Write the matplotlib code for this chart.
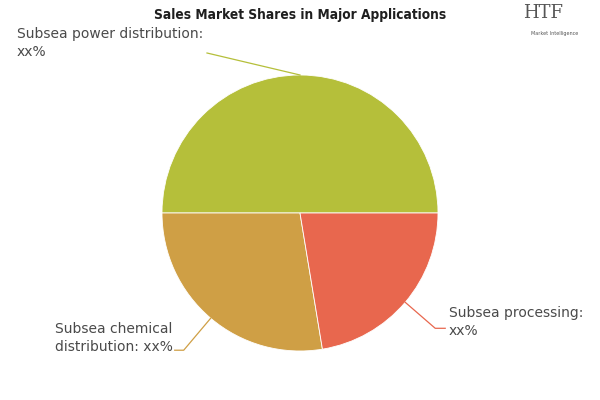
import numpy as np
import matplotlib.pyplot as plt

# shares (values are hidden as xx% in the original)
labels = ['Subsea power distribution:\nxx%', 'Subsea chemical\ndistribution: xx%', 'Subsea processing:\nxx%']
shares = [50.0, 27.6, 22.4]
colors = ['#b5bf3a', '#cf9f45', '#e8674e']

fig = plt.figure(figsize=(6, 4), dpi=100)
ax = fig.add_axes([0, 0, 1, 1])

cx, cy, r = 300, 187, 138
wedges, _ = ax.pie(shares, colors=colors, startangle=0, counterclock=True,
                   center=(cx, cy), radius=r, frame=True,
                   wedgeprops=dict(edgecolor='white', linewidth=0.6))
ax.set_xlim(0, 600)
ax.set_ylim(0, 400)
ax.axis('off')

# connector offsets from the wedge middle, text position
conn = [
    dict(elbow=(-93, 22), tail=0, text=(17, 357)),
    dict(elbow=(-27, -32), tail=-9, text=(55, 62)),
    dict(elbow=(30, -26), tail=10, text=(449, 78)),
]
for w, c, lab, col in zip(wedges, conn, labels, colors):
    ang = np.deg2rad((w.theta1 + w.theta2) / 2)
    x0, y0 = cx + r * np.cos(ang), cy + r * np.sin(ang)
    x1, y1 = x0 + c['elbow'][0], y0 + c['elbow'][1]
    x2 = x1 + c['tail']
    ax.plot([x0, x1, x2], [y0, y1, y1], color=col, lw=0.9)
    ax.text(c['text'][0], c['text'][1], lab, ha='left', va='center',
            fontsize=10, color='#4a4a4a', linespacing=1.45)

fig.text(0.5, 0.962, 'Sales Market Shares in Major Applications', ha='center', va='center',
         fontsize=9.8, fontweight='bold', color='#1f1f1f', family='DejaVu Sans',
         fontstretch='condensed')
fig.text(0.905, 0.968, 'HTF', ha='center', va='center', fontsize=13,
         color='#555555', family='DejaVu Serif')
fig.text(0.925, 0.917, 'Market Intelligence', ha='center', va='center', fontsize=3.5,
         color='#555555')

fig.savefig('out.png', dpi=100)
